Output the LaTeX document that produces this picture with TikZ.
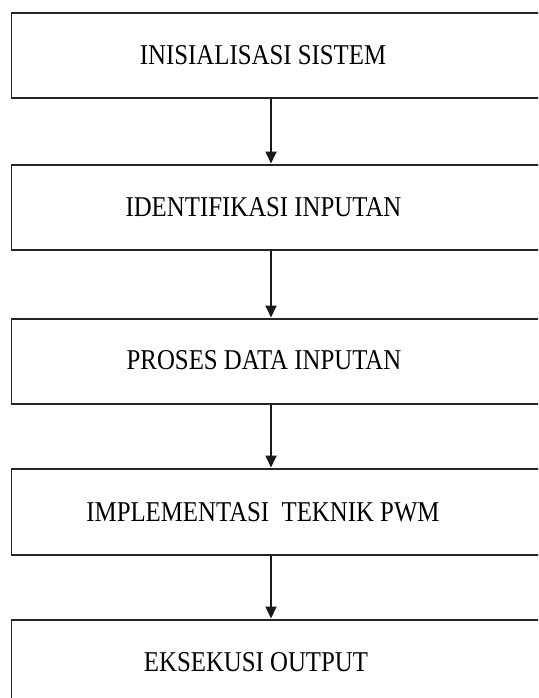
\documentclass[tikz,border=0pt]{standalone}
\usepackage{fontspec}
\setmainfont{Liberation Serif}
\usetikzlibrary{arrows.meta}
\newcommand{\steplabel}[1]{\scalebox{0.865}[1]{#1}}
\tikzset{
  stepbox/.style={draw=black!85, line width=1.8pt, rectangle, minimum width=560pt,
                  minimum height=85pt, anchor=north west, inner sep=0pt},
  steptext/.style={font=\fontsize{28.7}{30}\selectfont, text=black, inner sep=0pt},
  flow/.style={draw=black!90, line width=1.8pt,
               -{Triangle[length=12pt,width=11pt]}, shorten >=0.5pt}
}
\begin{document}
\begin{tikzpicture}[x=1pt,y=-1pt]
  \useasboundingbox (0,0) rectangle (538,698);
  \clip (0,0) rectangle (538,698);
  \fill[white] (0,0) rectangle (538,698);

  % process boxes
  \node[stepbox] (b1) at (10.5,12) {};
  \node[stepbox] (b2) at (10.5,164) {};
  \node[stepbox] (b3) at (10.5,318) {};
  \node[stepbox, minimum height=86pt] (b4) at (10.5,468) {};
  \node[stepbox] (b5) at (10.5,619) {};

  % labels
  \node[steptext] (t1) at (263,55) {\steplabel{INISIALISASI SISTEM}};
  \node[steptext] (t2) at (263.5,207) {\steplabel{IDENTIFIKASI INPUTAN}};
  \node[steptext] (t3) at (264,360) {\steplabel{PROSES DATA INPUTAN}};
  \node[steptext] (t4) at (263,512) {\steplabel{IMPLEMENTASI\ \ TEKNIK\ PWM}};
  \node[steptext] (t5) at (256,662) {\steplabel{EKSEKUSI OUTPUT}};

  % connectors
  \coordinate (ax) at (271,0);
  \draw[flow] (b1.south -| ax) -- (b2.north -| ax);
  \draw[flow] (b2.south -| ax) -- (b3.north -| ax);
  \draw[flow] (b3.south -| ax) -- (b4.north -| ax);
  \draw[flow] (b4.south -| ax) -- (b5.north -| ax);
\end{tikzpicture}
\end{document}
